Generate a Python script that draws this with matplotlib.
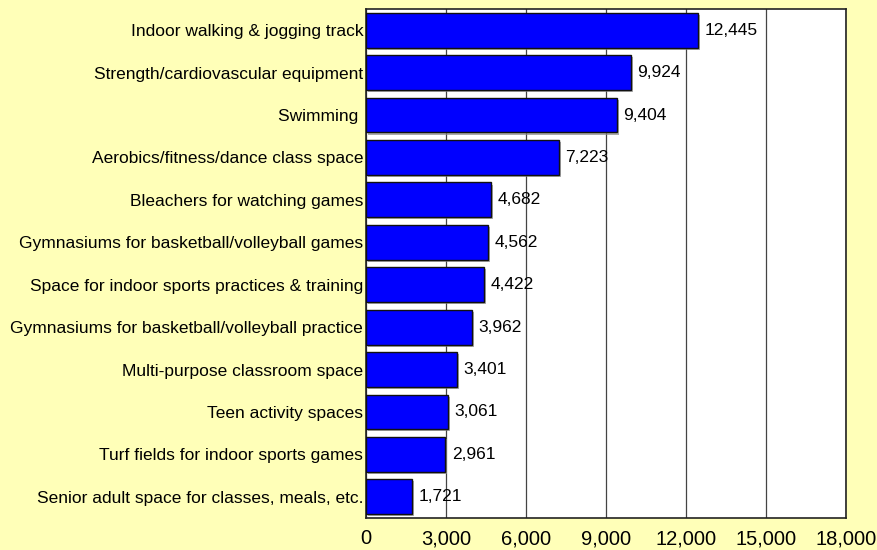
import matplotlib.pyplot as plt
import matplotlib.patheffects as pe
from matplotlib.ticker import FuncFormatter, MultipleLocator

plt.rcParams['font.family'] = ['Liberation Sans', 'DejaVu Sans']

categories = [
    "Indoor walking & jogging track",
    "Strength/cardiovascular equipment",
    "Swimming ",
    "Aerobics/fitness/dance class space",
    "Bleachers for watching games",
    "Gymnasiums for basketball/volleyball games",
    "Space for indoor sports practices & training",
    "Gymnasiums for basketball/volleyball practice",
    "Multi-purpose classroom space",
    "Teen activity spaces",
    "Turf fields for indoor sports games",
    "Senior adult space for classes, meals, etc.",
]
votes = [12445, 9924, 9404, 7223, 4682, 4562, 4422, 3962, 3401, 3061, 2961, 1721]

bg = "#FFFFB8"

fig = plt.figure(figsize=(8.78, 5.5), dpi=100, facecolor=bg)
ax = fig.add_axes([366 / 878, 1 - 518 / 550, 480 / 878, 509 / 550])
ax.set_facecolor("white")

y = list(range(len(categories)))
bars = ax.barh(y, votes, height=0.82, color="#0000FF", edgecolor="#111111",
               linewidth=1.0, zorder=3)
for b in bars:
    b.set_path_effects([pe.SimplePatchShadow(offset=(1.5, -1.5),
                                             shadow_rgbFace="#888888",
                                             alpha=0.7),
                        pe.Normal()])

for yi, v in zip(y, votes):
    ax.text(v + 250, yi, f"{v:,}", va="center", ha="left", fontsize=12.5,
            zorder=4)

ax.set_xlim(0, 18000)
ax.set_ylim(len(categories) - 0.5, -0.5)
ax.xaxis.set_major_locator(MultipleLocator(3000))
ax.xaxis.set_major_formatter(FuncFormatter(lambda x, _: f"{int(x):,}"))
ax.grid(axis="x", color="#444444", linewidth=0.9, zorder=0)

ax.set_yticks(y)
ax.set_yticklabels(categories, fontsize=12.5)
ax.tick_params(axis="y", length=0, pad=2)
ax.tick_params(axis="x", length=0, pad=8, labelsize=14.5)

for s in ax.spines.values():
    s.set_color("#222222")
    s.set_linewidth(1.2)

fig.savefig("out.png", dpi=100, facecolor=bg)
